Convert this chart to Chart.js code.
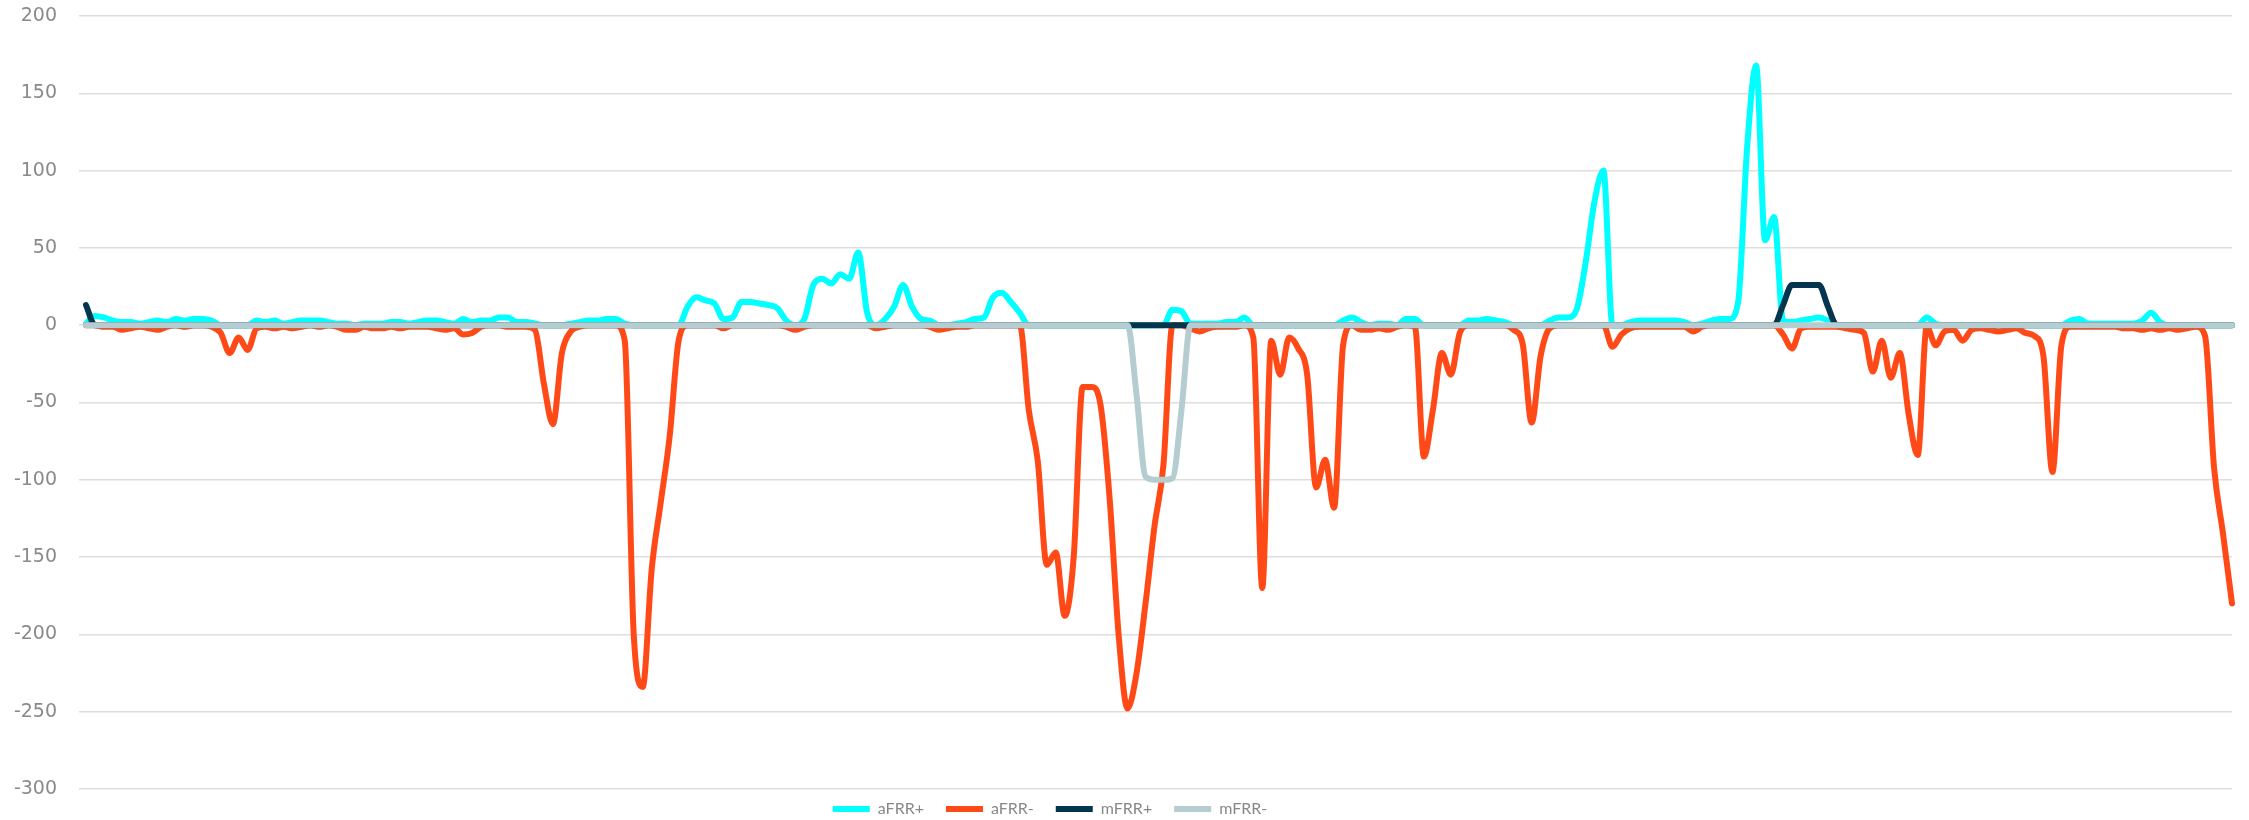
<!DOCTYPE html>
<html>
<head>
<meta charset="utf-8">
<title>aFRR / mFRR</title>
<script src="https://cdn.jsdelivr.net/npm/chart.js@4.4.1/dist/chart.umd.min.js"></script>
<style>
  html, body { margin: 0; padding: 0; background: #ffffff; }
  #wrap { position: relative; width: 2249px; height: 820px; }
</style>
</head>
<body>
<div id="wrap"><canvas id="balancingChart"></canvas></div>
<script>
// Series, one value per 6 min (240 points)
const aFRRplus = [
  1, 6, 5, 3, 2, 2, 1, 2, 3, 2, 4, 3, 4, 4, 3, 0, 0, 0, 0, 3,
  2, 3, 1, 2, 3, 3, 3, 2, 1, 1, 0, 1, 1, 1, 2, 2, 1, 2, 3, 3,
  2, 1, 4, 2, 3, 3, 5, 5, 2, 2, 1, 0, 0, 0, 1, 2, 3, 3, 4, 4,
  1, 0, 0, 0, 0, 0, 0, 12, 18, 16, 14, 4, 5, 15, 15, 14, 13, 11, 3, 0,
  4, 26, 30, 27, 33, 30, 47, 8, 0, 4, 12, 26, 12, 4, 3, 0, 0, 1, 2, 4,
  5, 18, 21, 15, 8, 0, 0, 0, 0, 0, 0, 0, 0, 0, 0, 0, 0, 0, 0, 0,
  0, 10, 9, 1, 1, 1, 1, 2, 2, 5, 0, 0, 0, 0, 0, 0, 0, 0, 0, 0,
  3, 5, 2, 0, 1, 1, 0, 4, 4, 0, 0, 0, 0, 0, 3, 3, 4, 3, 2, 0,
  0, 0, 0, 3, 5, 5, 10, 40, 80, 100, 0, 0, 2, 3, 3, 3, 3, 3, 2, 0,
  1, 3, 4, 4, 15, 115, 168, 55, 70, 3, 2, 3, 4, 5, 3, 0, 0, 0, 0, 0,
  0, 0, 0, 0, 0, 5, 1, 0, 0, 0, 0, 0, 0, 0, 0, 0, 0, 0, 0, 0,
  0, 3, 4, 1, 1, 1, 1, 1, 1, 3, 8, 2, 0, 0, 0, 0, 0, 0, 0, 0
];

const aFRRminus = [
  0, 0, -1, -1, -3, -2, -1, -2, -3, -1, 0, -1, 0, 0, -1, -5, -18, -8, -16, -2,
  -1, -2, -1, -2, -1, 0, -1, 0, -1, -3, -3, -1, -2, -2, -1, -2, -1, -1, -1, -2,
  -3, -2, -6, -5, -1, 0, 0, -1, -1, -1, -3, -38, -64, -18, -4, -1, 0, 0, 0, 0,
  -10, -200, -234, -158, -115, -72, -10, 0, 0, 0, 0, -2, 0, 0, 0, 0, 0, 0, -1, -3,
  -1, 0, 0, 0, 0, 0, 0, 0, -2, -1, 0, 0, 0, 0, -1, -3, -2, -1, -1, 0,
  0, 0, 0, 0, 0, -55, -88, -155, -147, -188, -150, -40, -40, -52, -112, -200, -248, -225, -180, -130,
  -90, 0, 0, -2, -4, -2, -1, -1, -1, 0, -8, -170, -10, -32, -8, -15, -32, -105, -87, -118,
  -13, 0, -3, -3, -2, -3, -1, 0, -1, -85, -55, -18, -32, -5, 0, 0, 0, 0, 0, -3,
  -12, -63, -20, -2, 0, 0, 0, 0, 0, 0, -14, -6, -2, -1, -1, -1, -1, -1, -1, -4,
  -1, 0, 0, 0, 0, 0, 0, 0, 0, -6, -15, -2, -1, -1, -1, -1, -2, -3, -5, -30,
  -10, -34, -18, -58, -84, -1, -13, -4, -3, -10, -3, -2, -3, -4, -3, -2, -5, -7, -20, -95,
  -13, -1, -1, -1, -1, -1, -1, -2, -2, -3, -2, -3, -2, -3, -2, -1, -7, -92, -135, -180
];

const mFRRplus = [
  13, 0, 0, 0, 0, 0, 0, 0, 0, 0, 0, 0, 0, 0, 0, 0, 0, 0, 0, 0,
  0, 0, 0, 0, 0, 0, 0, 0, 0, 0, 0, 0, 0, 0, 0, 0, 0, 0, 0, 0,
  0, 0, 0, 0, 0, 0, 0, 0, 0, 0, 0, 0, 0, 0, 0, 0, 0, 0, 0, 0,
  0, 0, 0, 0, 0, 0, 0, 0, 0, 0, 0, 0, 0, 0, 0, 0, 0, 0, 0, 0,
  0, 0, 0, 0, 0, 0, 0, 0, 0, 0, 0, 0, 0, 0, 0, 0, 0, 0, 0, 0,
  0, 0, 0, 0, 0, 0, 0, 0, 0, 0, 0, 0, 0, 0, 0, 0, 0, 0, 0, 0,
  0, 0, 0, 0, 0, 0, 0, 0, 0, 0, 0, 0, 0, 0, 0, 0, 0, 0, 0, 0,
  0, 0, 0, 0, 0, 0, 0, 0, 0, 0, 0, 0, 0, 0, 0, 0, 0, 0, 0, 0,
  0, 0, 0, 0, 0, 0, 0, 0, 0, 0, 0, 0, 0, 0, 0, 0, 0, 0, 0, 0,
  0, 0, 0, 0, 0, 0, 0, 0, 0, 13, 26, 26, 26, 26, 12, 0, 0, 0, 0, 0,
  0, 0, 0, 0, 0, 0, 0, 0, 0, 0, 0, 0, 0, 0, 0, 0, 0, 0, 0, 0,
  0, 0, 0, 0, 0, 0, 0, 0, 0, 0, 0, 0, 0, 0, 0, 0, 0, 0, 0, 0
];

const mFRRminus = [
  0, 0, 0, 0, 0, 0, 0, 0, 0, 0, 0, 0, 0, 0, 0, 0, 0, 0, 0, 0,
  0, 0, 0, 0, 0, 0, 0, 0, 0, 0, 0, 0, 0, 0, 0, 0, 0, 0, 0, 0,
  0, 0, 0, 0, 0, 0, 0, 0, 0, 0, 0, 0, 0, 0, 0, 0, 0, 0, 0, 0,
  0, 0, 0, 0, 0, 0, 0, 0, 0, 0, 0, 0, 0, 0, 0, 0, 0, 0, 0, 0,
  0, 0, 0, 0, 0, 0, 0, 0, 0, 0, 0, 0, 0, 0, 0, 0, 0, 0, 0, 0,
  0, 0, 0, 0, 0, 0, 0, 0, 0, 0, 0, 0, 0, 0, 0, 0, 0, -45, -98, -100,
  -100, -99, -55, 0, 0, 0, 0, 0, 0, 0, 0, 0, 0, 0, 0, 0, 0, 0, 0, 0,
  0, 0, 0, 0, 0, 0, 0, 0, 0, 0, 0, 0, 0, 0, 0, 0, 0, 0, 0, 0,
  0, 0, 0, 0, 0, 0, 0, 0, 0, 0, 0, 0, 0, 0, 0, 0, 0, 0, 0, 0,
  0, 0, 0, 0, 0, 0, 0, 0, 0, 0, 0, 0, 0, 0, 0, 0, 0, 0, 0, 0,
  0, 0, 0, 0, 0, 0, 0, 0, 0, 0, 0, 0, 0, 0, 0, 0, 0, 0, 0, 0,
  0, 0, 0, 0, 0, 0, 0, 0, 0, 0, 0, 0, 0, 0, 0, 0, 0, 0, 0, 0
];

const seriesNames = ['aFRR+', 'aFRR-', 'mFRR+', 'mFRR-'];
const yTicks = { min: -300, max: 200, step: 50 };

// x axis is hidden, labels only used for tooltips
const timeLabels = aFRRplus.map(function(v, i) {
    const m = i * 6;
    return String(Math.floor(m / 60)).padStart(2, '0') + ':' + String(m % 60).padStart(2, '0');
});

// Excel puts the legend a bit left of centre and tight under the plot
const legendOffset = {
    id: 'legendOffset',
    afterLayout: function(chart) {
        const lg = chart.legend;
        if (!lg) return;
        lg.left -= 66;
        lg.right -= 66;
        lg.top -= 10;
        lg.bottom = chart.height; // keep the clip box big enough for the text
    }
};

function lineSet(label, data, color, order) {
    return {
        label: label,
        data: data,
        borderColor: color,
        backgroundColor: color,
        borderWidth: 6,
        pointRadius: 0,
        pointHoverRadius: 0,
        fill: false,
        cubicInterpolationMode: 'monotone',
        borderJoinStyle: 'round',
        borderCapStyle: 'round',
        order: order
    };
}

document.addEventListener('DOMContentLoaded', function() {
    const ctx = document.getElementById('balancingChart');

    new Chart(ctx, {
        type: 'line',
        data: {
            labels: timeLabels,
            datasets: [
                lineSet(seriesNames[0], aFRRplus, '#00ffff', 4),
                lineSet(seriesNames[1], aFRRminus, '#ff4a17', 3),
                lineSet(seriesNames[2], mFRRplus, '#03354f', 2),
                lineSet(seriesNames[3], mFRRminus, '#b5cdd0', 1)
            ]
        },
        options: {
            responsive: true,
            maintainAspectRatio: false,
            animation: false,
            layout: {
                padding: { top: 16, right: 17, bottom: 0, left: 0 }
            },
            plugins: {
                legend: {
                    position: 'bottom',
                    reverse: true,
                    maxHeight: 31,
                    labels: {
                        usePointStyle: true,
                        pointStyle: 'line',
                        pointStyleWidth: 37,
                        padding: 22,
                        color: '#888888',
                        font: { family: "Lato, 'Open Sans', sans-serif", size: 16 }
                    }
                },
                tooltip: { mode: 'index', intersect: false }
            },
            scales: {
                x: {
                    display: false
                },
                y: {
                    min: yTicks.min,
                    max: yTicks.max,
                    border: { display: false },
                    grid: {
                        color: '#dedede',
                        lineWidth: 1.5,
                        drawTicks: true,
                        tickLength: 7
                    },
                    ticks: {
                        stepSize: yTicks.step,
                        padding: 22,
                        color: '#8a8a8a',
                        font: { family: "'DejaVu Sans', sans-serif", size: 19 }
                    },
                    afterFit: function(scale) {
                        scale.width = 86;
                        scale.paddingTop = 0;
                        scale.paddingBottom = 0;
                    }
                }
            }
        },
        plugins: [legendOffset]
    });
});
</script>
</body>
</html>
